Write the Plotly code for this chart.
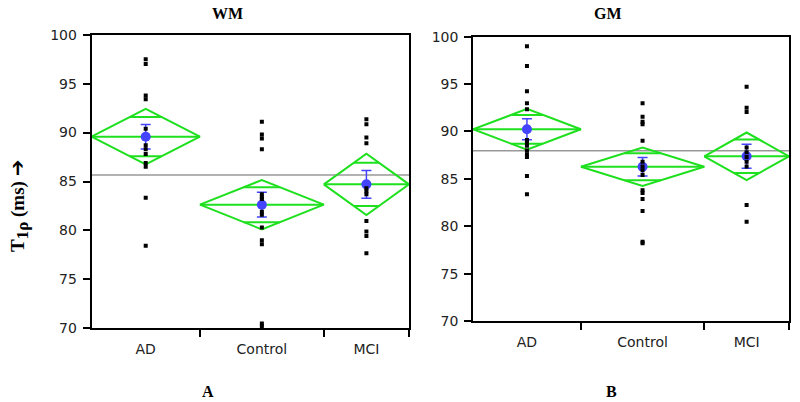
import math
import plotly.graph_objects as go

groups = ["AD", "Control", "MCI"]
group_n = [14, 16, 11]

# WM panel
wm_points = [
    [97.5, 97.0, 93.8, 93.4, 90.4, 88.7, 88.3, 87.8, 86.9, 86.5, 83.35, 78.44],
    [91.1, 89.8, 89.4, 88.3, 83.7, 83.4, 83.2, 81.9, 81.6, 80.3, 79.0, 78.6, 70.5, 70.2],
    [91.35, 90.84, 89.5, 88.9, 84.3, 84.0, 83.7, 80.96, 79.9, 79.43, 77.66],
]
wm_mean = [89.58, 82.63, 84.71]
wm_ci = [2.83, 2.52, 3.13]
wm_se = [1.25, 1.26, 1.41]
wm_grand = 85.66

# GM panel
gm_points = [
    [99.0, 96.9, 94.24, 92.97, 92.34, 89.1, 88.8, 88.5, 88.0, 87.6, 87.3, 85.3, 83.37],
    [92.97, 91.56, 91.03, 90.76, 89.03, 86.8, 86.3, 85.9, 85.4, 83.8, 83.5, 82.88, 81.61, 78.35, 78.2],
    [94.72, 92.51, 92.06, 88.3, 87.8, 87.3, 86.8, 86.3, 82.24, 80.48],
]
gm_mean = [90.23, 86.28, 87.38]
gm_ci = [2.15, 2.02, 2.51]
gm_se = [1.10, 0.97, 1.27]
gm_grand = 87.97

y_ticks = [70, 75, 80, 85, 90, 95, 100]

GREEN = "#1ee01e"
BLUE = "#4444ff"

bounds = [0]
for n in group_n:
    bounds.append(bounds[-1] + n)
centers = [(bounds[i] + bounds[i + 1]) / 2 for i in range(len(group_n))]
total = bounds[-1]

fig = go.Figure()


def add_panel(points, mean, ci, se, grand, xa, ya):
    # grand mean line
    fig.add_trace(go.Scatter(x=[0, total], y=[grand, grand], mode="lines",
                             line=dict(color="#999999", width=1.5),
                             xaxis=xa, yaxis=ya, hoverinfo="skip"))
    k = 1 / math.sqrt(2)
    for i in range(len(group_n)):
        x0, x1, c = bounds[i], bounds[i + 1], centers[i]
        m, h = mean[i], ci[i]
        # diamond
        fig.add_trace(go.Scatter(x=[x0, c, x1, c, x0], y=[m, m + h, m, m - h, m],
                                 mode="lines", line=dict(color=GREEN, width=2),
                                 xaxis=xa, yaxis=ya, hoverinfo="skip"))
        # mean line
        fig.add_trace(go.Scatter(x=[x0, x1], y=[m, m], mode="lines",
                                 line=dict(color=GREEN, width=2),
                                 xaxis=xa, yaxis=ya, hoverinfo="skip"))
        # overlap marks
        half = (x1 - x0) / 2 * (1 - k)
        for s in (1, -1):
            fig.add_trace(go.Scatter(x=[c - half, c + half], y=[m + s * h * k] * 2,
                                     mode="lines", line=dict(color=GREEN, width=2),
                                     xaxis=xa, yaxis=ya, hoverinfo="skip"))
    # mean dots with error bars
    fig.add_trace(go.Scatter(x=centers, y=mean, mode="markers",
                             marker=dict(color=BLUE, size=10),
                             error_y=dict(type="data", array=se, color=BLUE,
                                          thickness=1.5, width=5),
                             xaxis=xa, yaxis=ya))
    # raw points
    for i in range(len(group_n)):
        fig.add_trace(go.Scatter(x=[centers[i]] * len(points[i]), y=points[i],
                                 mode="markers",
                                 marker=dict(color="black", size=4, symbol="square",
                                             line=dict(width=0)),
                                 xaxis=xa, yaxis=ya))


add_panel(wm_points, wm_mean, wm_ci, wm_se, wm_grand, "x", "y")
add_panel(gm_points, gm_mean, gm_ci, gm_se, gm_grand, "x2", "y2")

tickfont = dict(family="DejaVu Sans", size=14, color="#222222")

xcommon = dict(range=[0, total], tickmode="array", tickvals=centers, ticktext=groups,
               ticks="", showgrid=False, zeroline=False, showline=True, mirror=True,
               linecolor="black", linewidth=1.5, tickfont=tickfont,
               ticklabelstandoff=7, automargin=False,
               minor=dict(tickmode="array", tickvals=bounds[1:], ticks="outside",
                          ticklen=7, tickwidth=1.5, tickcolor="black", showgrid=False))
ycommon = dict(range=[70, 100], tickmode="array", tickvals=y_ticks, ticks="outside",
               ticklen=7, tickwidth=1.5, tickcolor="black", showgrid=False,
               zeroline=False, showline=True, mirror=True, linecolor="black",
               linewidth=1.5, tickfont=tickfont, ticklabelstandoff=3, automargin=False)

serif = dict(family="Liberation Serif", size=16, color="black")
ann = dict(xref="paper", yref="paper", showarrow=False, xanchor="center", yanchor="middle")

fig.update_layout(
    width=800, height=402,
    margin=dict(l=0, r=0, t=0, b=0, autoexpand=False),
    paper_bgcolor="white", plot_bgcolor="white",
    showlegend=False,
    xaxis=dict(domain=[91.5 / 800, 409 / 800], anchor="y", **xcommon),
    yaxis=dict(domain=[1 - 328.3 / 402, 1 - 34.7 / 402], anchor="x", **ycommon),
    xaxis2=dict(domain=[473 / 800, 789 / 800], anchor="y2", **xcommon),
    yaxis2=dict(domain=[1 - 321 / 402, 1 - 36.7 / 402], anchor="x2", **ycommon),
    annotations=[
        dict(text="<b>WM</b>", x=228 / 800, y=1 - 14 / 402, font=serif, **ann),
        dict(text="<b>GM</b>", x=608 / 800, y=1 - 14 / 402, font=serif, **ann),
        dict(text="<b>A</b>", x=208 / 800, y=1 - 391 / 402, font=serif, **ann),
        dict(text="<b>B</b>", x=611 / 800, y=1 - 391 / 402, font=serif, **ann),
        dict(text="<b>T<sub><span style='font-size:17px'>1ρ</span></sub> (ms) </b>"
                  "<span style='font-family:DejaVu Sans;font-size:20px'><b>➔</b></span>",
             x=18 / 800, y=1 - 206 / 402, textangle=-90,
             font=dict(family="Liberation Serif", size=19, color="black"), **ann),
    ],
)

fig.write_html("out.html", config={"displayModeBar": False},
               post_script="document.body.style.margin='0';document.body.style.overflow='hidden';")
